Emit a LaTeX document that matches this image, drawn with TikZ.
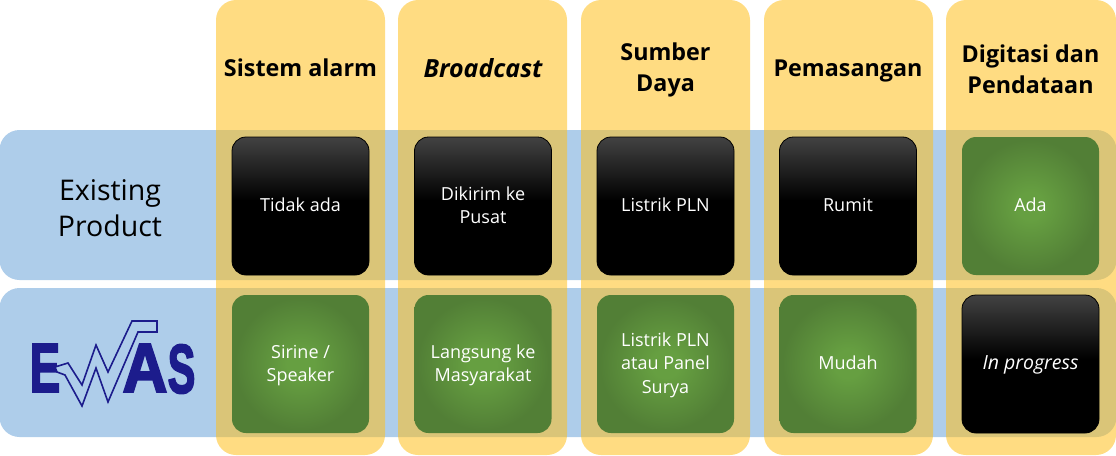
\documentclass[tikz,border=0pt]{standalone}
\usepackage{fontspec}
\usepackage{graphicx}
\setmainfont{Open Sans}
\definecolor{rowblue}{HTML}{AECDEA}
\definecolor{colyellow}{HTML}{FFBF1C}
\definecolor{logoblue}{HTML}{1C1C8C}
\definecolor{greenmid}{HTML}{669F41}
\definecolor{greenedge}{HTML}{527F36}
\pgfdeclareverticalshading{blackbox}{100bp}{color(0bp)=(black); color(52bp)=(black); color(75bp)=(black!74!white); color(100bp)=(black!74!white)}
\pgfdeclareradialshading{greenbox}{\pgfpoint{0bp}{0bp}}{color(0bp)=(greenmid); color(5bp)=(greenmid); color(24bp)=(greenedge); color(50bp)=(greenedge)}
\newfontfamily\logofont[FakeBold=3]{Liberation Sans}
\newcommand{\tup}[2]{\raisebox{#1}[\height][\depth]{#2}}
\tikzset{
  x=1pt,y=-1pt,
  rowband/.style={fill=rowblue,rounded corners=20pt},
  colband/.style={fill=colyellow,fill opacity=0.55,rounded corners=20pt},
  cellbox/.style={minimum width=137pt,minimum height=138pt,rounded corners=14pt,text=white,align=center,font=\fontsize{18}{23.5}\selectfont,inner sep=0pt},
  blackcell/.style={cellbox,draw=black,line width=0.8pt,shading=blackbox},
  greencell/.style={cellbox,shading=greenbox},
  head/.style={font=\fontsize{23.3}{31}\selectfont\bfseries,align=center,text=black},
  rowlabel/.style={font=\fontsize{28.5}{36}\selectfont,align=center,text=black},
  logoletter/.style={font=\fontsize{69}{69}\selectfont\logofont\bfseries,text=logoblue,inner sep=0pt}
}
\begin{document}
\begin{tikzpicture}
\useasboundingbox (0,0) rectangle (1116,455);
\fill[rowband] (-0.5,130) rectangle (1116.5,280);
\fill[rowband] (-0.5,288) rectangle (1116.5,437);
\foreach \a/\b in {216/385,398/567,581/750,764/933,946/1116}
  \fill[colband] (\a,0) rectangle (\b,455);
\node[head] (h1) at (300.5,68) {Sistem alarm};
\node[head,font=\fontsize{25}{31}\selectfont\bfseries] (h2) at (483,68) {\itshape Broadcast};
\node[head] (h3) at (665.5,70) {Sumber\\Daya};
\node[head] (h4) at (848,71) {Pemasangan};
\node[head] (h5) at (1030.5,69) {Digitasi dan\\Pendataan};
\node[rowlabel] (r1) at (110,208.5) {Existing\\Product};
\node[blackcell] (a1) at (300.5,206) {\tup{1.5pt}{Tidak ada}};
\node[blackcell] (a2) at (483,206) {\tup{1pt}{Dikirim ke}\\\tup{1pt}{Pusat}};
\node[blackcell] (a3) at (665.5,206) {\tup{1pt}{Listrik PLN}};
\node[blackcell] (a4) at (848,206) {\tup{1.5pt}{Rumit}};
\node[greencell] (a5) at (1030.5,206) {\tup{1.5pt}{Ada}};
\node[greencell] (b1) at (300.5,364) {\tup{-1.5pt}{Sirine /}\\\tup{-1pt}{Speaker}};
\node[greencell] (b2) at (483,364) {\tup{-1.5pt}{Langsung ke}\\\tup{-1pt}{Masyarakat}};
\node[greencell] (b3) at (665.5,364) {\tup{-1.5pt}{Listrik PLN}\\\tup{-1pt}{atau Panel}\\\tup{-1pt}{Surya}};
\node[greencell] (b4) at (848,364) {\tup{1pt}{Mudah}};
\node[blackcell,font=\fontsize{19.5}{24}\selectfont] (b5) at (1030.5,364) {\tup{-1pt}{\itshape In progress}};
\node[logoletter] (e) at (45,368) {\scalebox{.66}[1]{E}};
\node[logoletter] (la) at (145,368) {\scalebox{.9}[1]{A}};
\node[logoletter] (ls) at (181.5,369) {\scalebox{.6}[1]{S}};
\draw[logoblue,line width=1.6pt,fill=rowblue,miter limit=8]
 (55,367) -- (68,363) -- (82,385) -- (96,345) -- (108,372) -- (132,321) -- (157,321) -- (157,332) -- (138,332) -- (108,402) -- (96,368) -- (82,406) -- (65,375) -- (57,372) -- cycle;
\end{tikzpicture}
\end{document}
